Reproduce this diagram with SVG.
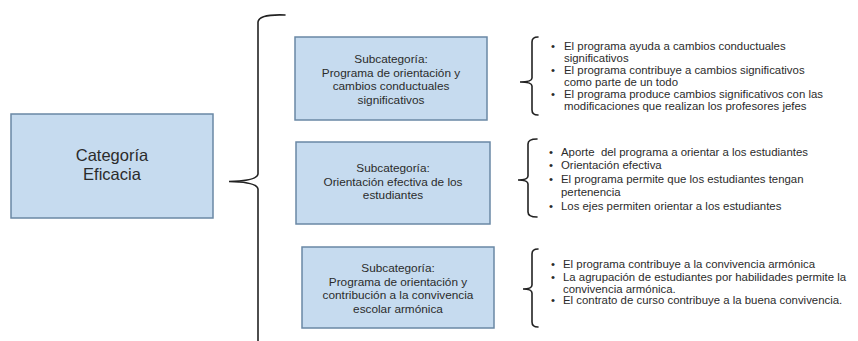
<svg xmlns="http://www.w3.org/2000/svg" width="858" height="341" viewBox="0 0 858 341">
<style>
.box{fill:#c6dbef;stroke:#6a88a5;stroke-width:1.5}
.cat{font-family:"Liberation Sans",Arial,sans-serif;font-size:16.5px;fill:#2b2b2b;text-anchor:middle}
.sub{font-family:"Liberation Sans",Arial,sans-serif;font-size:11.8px;fill:#2b2b2b;text-anchor:middle}
.li{font-family:"Liberation Sans",Arial,sans-serif;font-size:11.4px;fill:#2b2b2b}
.br{fill:none;stroke:#222;stroke-width:1.6;stroke-linecap:round}
</style>
<rect width="858" height="341" fill="#fff"/>
<g id="categoria">
<rect class="box" x="11" y="114" width="202" height="104"/>
<text class="cat" x="112" y="161">Categoría</text>
<text class="cat" x="112" y="180">Eficacia</text>
</g>
<g id="sub1">
<rect class="box" x="295" y="37" width="192" height="83"/>
<text class="sub" x="391" y="63">Subcategoría:</text>
<text class="sub" x="391" y="76.5">Programa de orientación y</text>
<text class="sub" x="391" y="90">cambios conductuales</text>
<text class="sub" x="391" y="103.5">significativos</text>
</g>
<g id="sub2">
<rect class="box" x="296" y="142" width="194" height="82"/>
<text class="sub" x="393" y="172">Subcategoría:</text>
<text class="sub" x="393" y="185.5">Orientación efectiva de los</text>
<text class="sub" x="393" y="199">estudiantes</text>
</g>
<g id="sub3">
<rect class="box" x="302" y="247" width="192" height="81"/>
<text class="sub" x="398" y="272">Subcategoría:</text>
<text class="sub" x="398" y="285.5">Programa de orientación y</text>
<text class="sub" x="398" y="299">contribución a la convivencia</text>
<text class="sub" x="398" y="312.5">escolar armónica</text>
</g>
<g id="list1">
<text class="li" x="551" y="50">•</text>
<text class="li" x="564" y="50">El programa ayuda a cambios conductuales</text>
<text class="li" x="564" y="62">significativos</text>
<text class="li" x="551" y="74">•</text>
<text class="li" x="564" y="74">El programa contribuye a cambios significativos</text>
<text class="li" x="564" y="86">como parte de un todo</text>
<text class="li" x="551" y="98">•</text>
<text class="li" x="564" y="98">El programa produce cambios significativos con las</text>
<text class="li" x="564" y="110">modificaciones que realizan los profesores jefes</text>
</g>
<g id="list2">
<text class="li" x="549" y="156">•</text>
<text class="li" x="561" y="156">Aporte&#160; del programa a orientar a los estudiantes</text>
<text class="li" x="549" y="169">•</text>
<text class="li" x="561" y="169">Orientación efectiva</text>
<text class="li" x="549" y="183">•</text>
<text class="li" x="561" y="183">El programa permite que los estudiantes tengan</text>
<text class="li" x="561" y="196">pertenencia</text>
<text class="li" x="549" y="210">•</text>
<text class="li" x="561" y="210">Los ejes permiten orientar a los estudiantes</text>
</g>
<g id="list3">
<text class="li" x="551" y="268">•</text>
<text class="li" x="563" y="268">El programa contribuye a la convivencia armónica</text>
<text class="li" x="551" y="281">•</text>
<text class="li" x="563" y="281">La agrupación de estudiantes por habilidades permite la</text>
<text class="li" x="563" y="292.5">convivencia armónica.</text>
<text class="li" x="551" y="304">•</text>
<text class="li" x="563" y="304">El contrato de curso contribuye a la buena convivencia.</text>
</g>
<g id="connectors">
<path class="br" d="M285,15 Q259,14 258,22 L258,174 Q257,181 229,181.5 Q257,182 258,189 L258,342"/>
<path class="br" d="M538,37 Q532,37 532,42 L532,78 Q532,82 520,82 Q532,82 532,86 L532,110 Q532,115 538,115"/>
<path class="br" d="M537,139 Q528,139 528,144 L528,176 Q528,180 518,180 Q528,180 528,184 L528,212 Q528,217 537,217"/>
<path class="br" d="M538,249 Q532,249 532,254 L532,285 Q532,289 523,289 Q532,289 532,293 L532,322 Q532,327 538,327"/>
</g>
</svg>
